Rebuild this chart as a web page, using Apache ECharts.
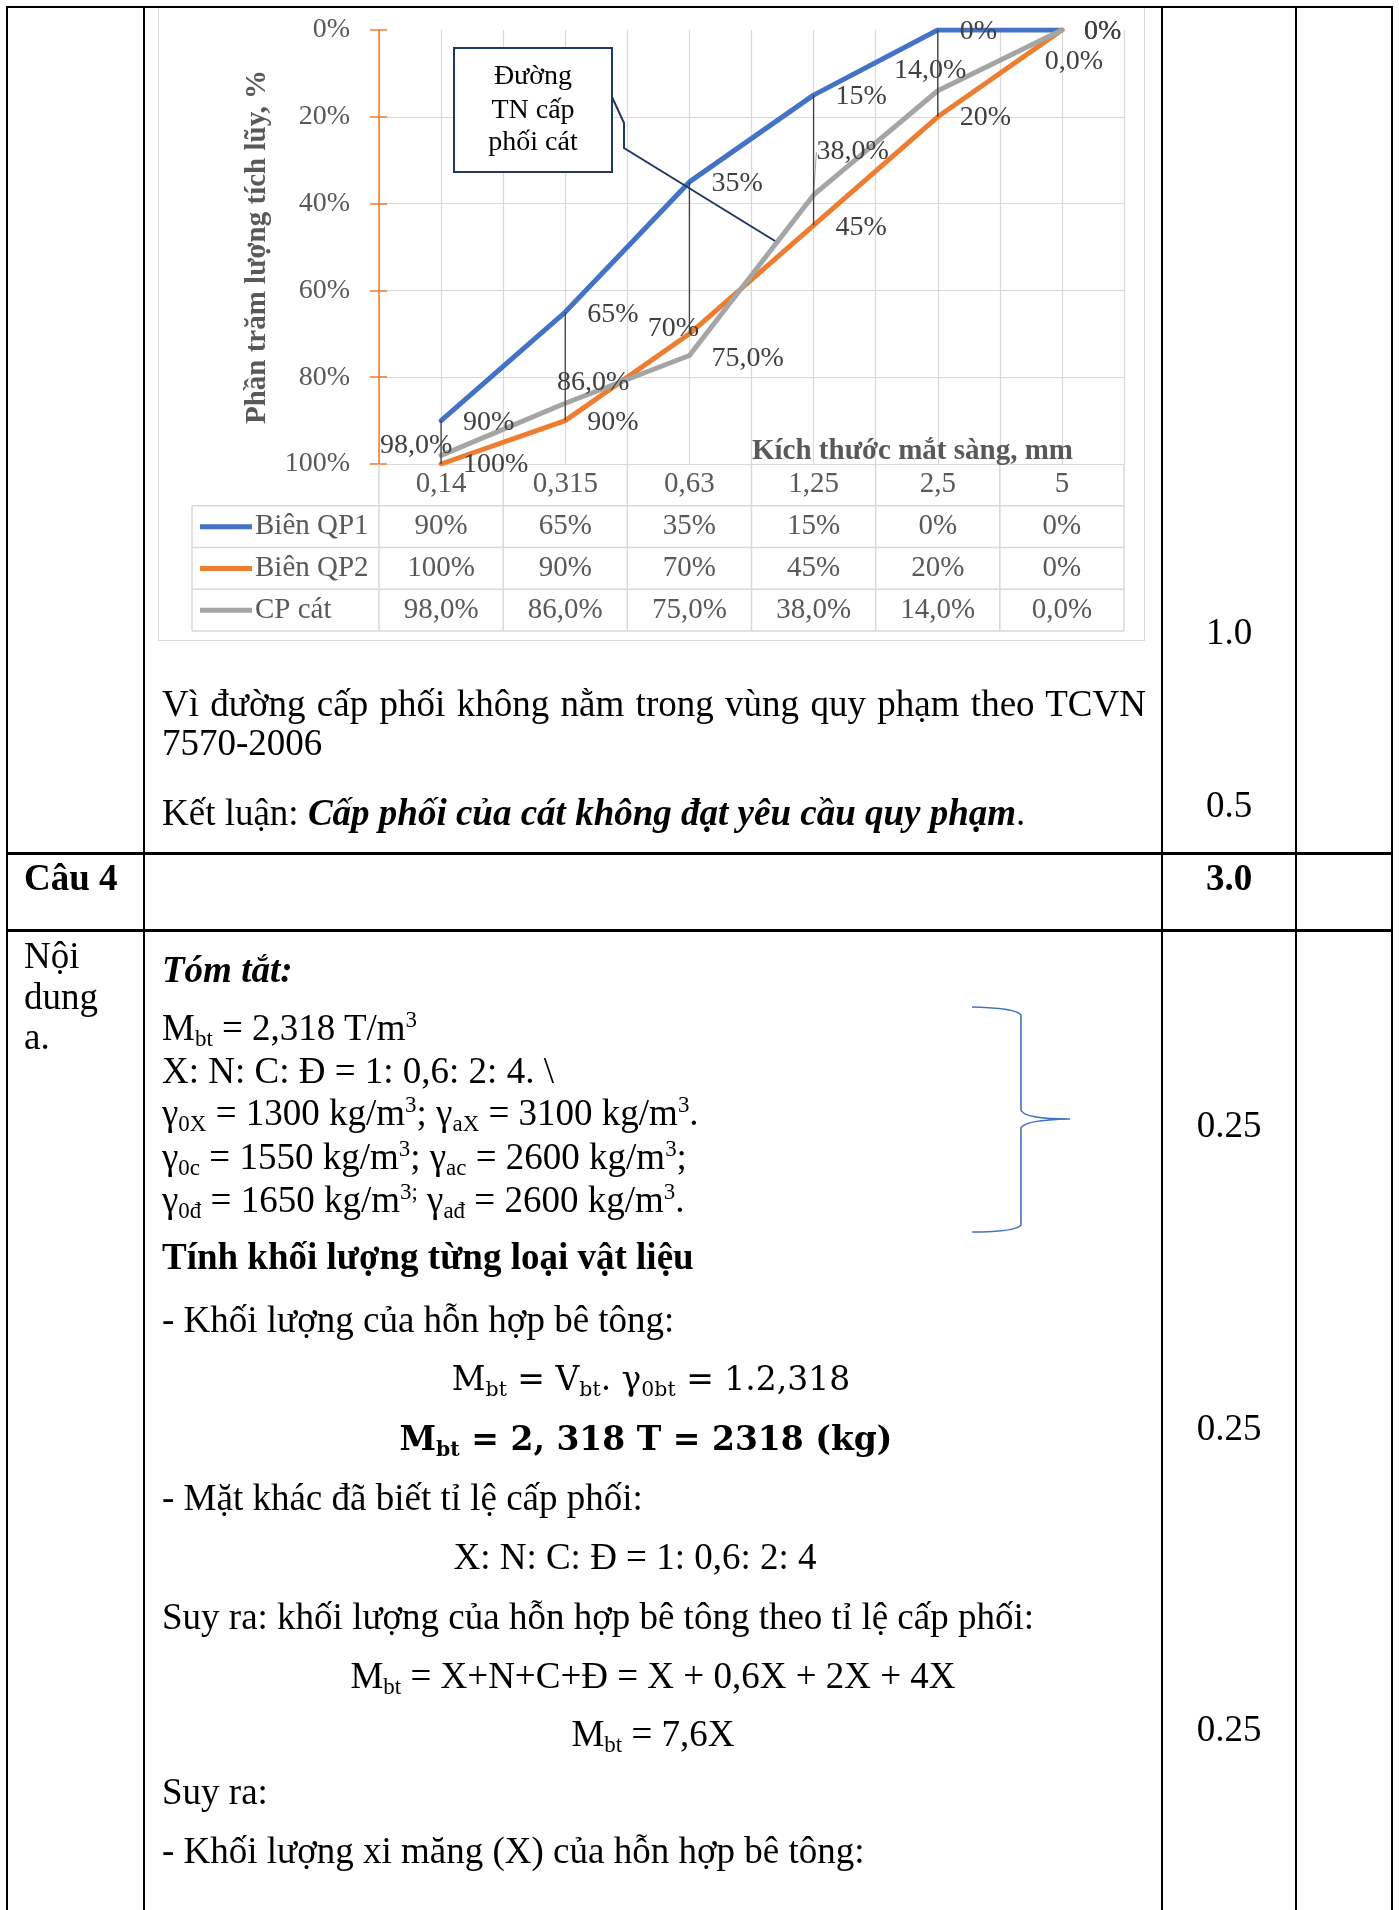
<!DOCTYPE html>
<html><head><meta charset="utf-8">
<script src="https://cdn.jsdelivr.net/npm/echarts@6/dist/echarts.min.js"></script>
<style>
html,body{margin:0;padding:0;background:#fff;}
#page{position:relative;width:1399px;height:1910px;overflow:hidden;background:#fff;}
.ln{position:absolute;background:#000;}
.t{position:absolute;font-family:'Liberation Serif','Times New Roman',serif;font-size:37px;line-height:44px;height:44px;white-space:nowrap;color:#000;}
.c{transform:translateX(-50%);}
.b{font-weight:bold;}
.bi{font-weight:bold;font-style:italic;}
.j{width:984px;text-align:justify;text-align-last:justify;white-space:normal;}
.sb{font-size:0.62em;position:relative;top:0.28em;}
.sp{font-size:0.62em;position:relative;top:-0.55em;}
.m{font-family:'DejaVu Serif',serif;font-size:33px;}
#chart{position:absolute;left:0;top:0;width:1399px;height:660px;}
#frame{position:absolute;left:158px;top:7px;width:985px;height:632px;border:1.5px solid #D9D9D9;}
</style></head>
<body><div id="page">
<div id="frame"></div>
<div class="ln" style="left:6px;top:6px;width:1387px;height:2px"></div>
<div class="ln" style="left:6px;top:6px;width:2px;height:1904px"></div>
<div class="ln" style="left:143px;top:6px;width:2px;height:1904px"></div>
<div class="ln" style="left:1161px;top:6px;width:2px;height:1904px"></div>
<div class="ln" style="left:1295px;top:6px;width:2px;height:1904px"></div>
<div class="ln" style="left:1391px;top:6px;width:2px;height:1904px"></div>
<div class="ln" style="left:6px;top:852px;width:1387px;height:3px"></div>
<div class="ln" style="left:6px;top:929px;width:1387px;height:3px"></div>
<div id="chart"></div>
<svg style="position:absolute;left:0;top:0" width="1399" height="1910">
<path d="M972,1007 Q1016,1008 1021,1015 L1021,1110 Q1024,1119 1070,1119 Q1024,1120 1021,1128 L1021,1225 Q1016,1232 972,1232" fill="none" stroke="#4472C4" stroke-width="1.6"/>
</svg>

<div class="t c" style="left:1229px;top:610px">1.0</div>
<div class="t j" style="left:162px;top:682px">Vì đường cấp phối không nằm trong vùng quy phạm theo TCVN</div>
<div class="t" style="left:162px;top:721px">7570-2006</div>
<div class="t" style="left:162px;top:791px">Kết luận: <span class="bi">Cấp phối của cát không đạt yêu cầu quy phạm</span>.</div>
<div class="t c" style="left:1229px;top:783px">0.5</div>
<div class="t b" style="left:24px;top:856px">Câu 4</div>
<div class="t c b" style="left:1229px;top:856px">3.0</div>
<div class="t" style="left:24px;top:934px">Nội</div>
<div class="t" style="left:24px;top:975px">dung</div>
<div class="t" style="left:24px;top:1015px">a.</div>
<div class="t bi" style="left:162px;top:948px">Tóm tắt:</div>
<div class="t" style="left:162px;top:1006px">M<span class="sb">bt</span> = 2,318 T/m<span class="sp">3</span></div>
<div class="t" style="left:162px;top:1049px">X: N: C: Đ = 1: 0,6: 2: 4. \</div>
<div class="t" style="left:162px;top:1091px">γ<span class="sb">0X</span> = 1300 kg/m<span class="sp">3</span>; γ<span class="sb">aX</span> = 3100 kg/m<span class="sp">3</span>.</div>
<div class="t" style="left:162px;top:1135px">γ<span class="sb">0c</span> = 1550 kg/m<span class="sp">3</span>; γ<span class="sb">ac</span> = 2600 kg/m<span class="sp">3</span>;</div>
<div class="t" style="left:162px;top:1178px">γ<span class="sb">0đ</span> = 1650 kg/m<span class="sp">3;</span> γ<span class="sb">ađ</span> = 2600 kg/m<span class="sp">3</span>.</div>
<div class="t c" style="left:1229px;top:1103px">0.25</div>
<div class="t b" style="left:162px;top:1235px">Tính khối lượng từng loại vật liệu</div>
<div class="t" style="left:162px;top:1298px">- Khối lượng của hỗn hợp bê tông:</div>
<div class="t c m" style="left:651px;top:1357px">M<span class="sb">bt</span> = V<span class="sb">bt</span>. γ<span class="sb">0bt</span> = 1.2,318</div>
<div class="t c m b" style="left:646px;top:1417px">M<span class="sb">bt</span> = 2, 318 T = 2318 (kg)</div>
<div class="t c" style="left:1229px;top:1406px">0.25</div>
<div class="t" style="left:162px;top:1476px">- Mặt khác đã biết tỉ lệ cấp phối:</div>
<div class="t c" style="left:635px;top:1535px">X: N: C: Đ = 1: 0,6: 2: 4</div>
<div class="t" style="left:162px;top:1595px">Suy ra: khối lượng của hỗn hợp bê tông theo tỉ lệ cấp phối:</div>
<div class="t c" style="left:653px;top:1654px">M<span class="sb">bt</span> = X+N+C+Đ = X + 0,6X + 2X + 4X</div>
<div class="t c" style="left:653px;top:1712px">M<span class="sb">bt</span> = 7,6X</div>
<div class="t c" style="left:1229px;top:1707px">0.25</div>
<div class="t" style="left:162px;top:1770px">Suy ra:</div>
<div class="t" style="left:162px;top:1829px">- Khối lượng xi măng (X) của hỗn hợp bê tông:</div>
</div>
<script>
// ---- data ----
const categories = ['0,14', '0,315', '0,63', '1,25', '2,5', '5'];
const seriesNames = ['Biên QP1', 'Biên QP2', 'CP cát'];
const bienQP1 = [90, 65, 35, 15, 0, 0];
const bienQP2 = [100, 90, 70, 45, 20, 0];
const cpCat = [98.0, 86.0, 75.0, 38.0, 14.0, 0.0];
const yTicks = [0, 20, 40, 60, 80, 100];
const yTitle = 'Phần trăm lượng tích lũy, %';
const xTitle = 'Kích thước mắt sàng, mm';
const calloutLines = ['Đường', 'TN cấp', 'phối cát'];

// ---- styles ----
const colors = ['#4472C4', '#ED7D31', '#A5A5A5'];
const FONT = "'Liberation Serif','Times New Roman',serif";
const fmtInt = v => v + '%';
const fmtDec = v => v.toFixed(1).replace('.', ',') + '%';
// label placement per point: null = right of point, [dx,dy] = centre offset
const placeQP1 = [null, null, null, null, null, null];
const placeQP2 = [null, null, [-15, -4], null, null, null];
const placeCP = [[-24, -8.5], [29, -20], null, [40, -42], [-6.5, -19], [13, 33]];
const dyQP1 = [2, 3, 2, 2, 2, 2];
const dyQP2 = [1, 2, 0, 2, 1, 2];
const dyCP = [0, 0, 3, 0, 0, 0];

function items(vals, place, dys, leaderIdx) {
  return vals.map((v, i) => {
    const it = { value: [i, v] };
    if (place[i]) it.label = { position: place[i], align: 'center', verticalAlign: 'middle', distance: 0, offset: [0, 0] };
    else it.label = { position: 'right', distance: 21, offset: [0, dys[i]] };
    if (i === leaderIdx) it.labelLine = { show: true, lineStyle: { color: '#A5A5A5', width: 1 } };
    return it;
  });
}

const chart = echarts.init(document.getElementById('chart'), null, { renderer: 'canvas' });
const rowH = 41.75;
const gridTop = 30, gridH = 434, gridLeft = 379, gridW = 745;

function lineSeries(name, vals, color, fmt, place, dys, leaderIdx) {
  return {
    type: 'line', name: name, xAxisIndex: 0, yAxisIndex: 0,
    data: items(vals, place, dys, leaderIdx),
    symbol: 'circle', symbolSize: 2, showSymbol: true,
    itemStyle: { color: color },
    lineStyle: { color: color, width: 5, cap: 'round', join: 'round' },
    label: { show: true, fontFamily: FONT, fontSize: 28, color: '#404040', formatter: p => fmt(p.value[1]) },
    emphasis: { disabled: true }, silent: true
  };
}

const tableRows = [
  categories,
  bienQP1.map(fmtInt),
  bienQP2.map(fmtInt),
  cpCat.map(fmtDec)
];

const xAxes = [{
  type: 'value', min: -0.5, max: 5.5, interval: 0.5, gridIndex: 0,
  axisLine: { show: false, onZero: false }, axisTick: { show: false }, axisLabel: { show: false },
  splitLine: { show: true, lineStyle: { color: '#D9D9D9', width: 1.2 } }
}];
tableRows.forEach((row, k) => {
  xAxes.push({
    type: 'category', data: row, gridIndex: 0, position: 'bottom', offset: k * rowH,
    boundaryGap: true,
    axisLine: { show: false, onZero: false }, axisTick: { show: false }, splitLine: { show: false },
    axisLabel: { show: true, interval: 0, margin: rowH / 2, verticalAlign: 'middle', fontFamily: FONT, fontSize: 29, color: '#595959' }
  });
});

const option = {
  animation: false,
  backgroundColor: 'transparent',
  grid: { left: gridLeft, top: gridTop, width: gridW, height: gridH, containLabel: false },
  xAxis: xAxes,
  yAxis: [{
    type: 'value', inverse: true, min: yTicks[0], max: yTicks[yTicks.length - 1], interval: 20, position: 'left',
    axisLine: { show: true, onZero: false, lineStyle: { color: '#ED7D31', width: 1.5 } },
    axisTick: { show: true, length: 9, lineStyle: { color: '#ED7D31', width: 1.5 } },
    axisLabel: { formatter: v => v + '%', fontFamily: FONT, fontSize: 28, color: '#595959', margin: 29 },
    splitLine: { show: true, lineStyle: { color: ['rgba(0,0,0,0)', '#D9D9D9', '#D9D9D9', '#D9D9D9', '#D9D9D9', '#D9D9D9'], width: 1.2 } },
    name: yTitle, nameLocation: 'middle', nameGap: 101, nameRotate: 90,
    nameTextStyle: { fontFamily: FONT, fontSize: 29, fontWeight: 'bold', color: '#595959', lineHeight: 32 }
  }, {
    type: 'value', inverse: true, min: yTicks[0], max: yTicks[yTicks.length - 1], interval: 20, position: 'left',
    axisLine: { show: false, onZero: false },
    axisTick: { show: true, inside: true, length: 8, lineStyle: { color: '#ED7D31', width: 1.5 } },
    axisLabel: { show: false }, splitLine: { show: false }
  }],
  series: [
    lineSeries(seriesNames[0], bienQP1, colors[0], fmtInt, placeQP1, dyQP1, -1),
    lineSeries(seriesNames[1], bienQP2, colors[1], fmtInt, placeQP2, dyQP2, -1),
    lineSeries(seriesNames[2], cpCat, colors[2], fmtDec, placeCP, dyCP, 3),
    {
      type: 'custom', name: 'hilo', xAxisIndex: 0, yAxisIndex: 0, z: 5, silent: true,
      encode: { x: 0, y: [1, 2] },
      data: bienQP1.map((v, i) => [i, v, bienQP2[i]]),
      renderItem: (params, api) => {
        const a = api.coord([api.value(0), api.value(1)]);
        const b = api.coord([api.value(0), api.value(2)]);
        return { type: 'line', shape: { x1: a[0], y1: a[1], x2: b[0], y2: b[1] }, style: { stroke: '#404040', lineWidth: 1.3 } };
      }
    }
  ]
};
chart.setOption(option);

// ---- data table grid, legend keys, titles, callout ----
const g = [];
const yBottom = chart.convertToPixel({ yAxisIndex: 0 }, 100);
const xR = chart.convertToPixel({ xAxisIndex: 0 }, 5.5);
const tableLeft = 192;
const tableBottom = yBottom + rowH * tableRows.length;
for (let k = 1; k <= tableRows.length; k++) {
  const y = yBottom + rowH * k;
  g.push({ type: 'line', shape: { x1: tableLeft, y1: y, x2: xR, y2: y }, style: { stroke: '#D9D9D9', lineWidth: 1.5 }, z: 1 });
}
for (let j = 0; j <= categories.length; j++) {
  const x = chart.convertToPixel({ xAxisIndex: 0 }, j - 0.5);
  g.push({ type: 'line', shape: { x1: x, y1: yBottom, x2: x, y2: tableBottom }, style: { stroke: '#D9D9D9', lineWidth: 1.5 }, z: 1 });
}
g.push({ type: 'line', shape: { x1: tableLeft, y1: yBottom + rowH, x2: tableLeft, y2: tableBottom }, style: { stroke: '#D9D9D9', lineWidth: 1.5 }, z: 1 });
seriesNames.forEach((n, k) => {
  const cy = yBottom + rowH * (k + 1.5);
  g.push({ type: 'line', shape: { x1: 200, y1: cy, x2: 252, y2: cy }, style: { stroke: colors[k], lineWidth: 5 }, z: 3 });
  g.push({ type: 'text', x: 255, y: cy, style: { text: n, font: '29px ' + FONT, fill: '#595959', align: 'left', verticalAlign: 'middle' }, z: 3 });
});
g.push({ type: 'text', x: 1073, y: 452, style: { text: xTitle, font: 'bold 29px ' + FONT, fill: '#595959', align: 'right', verticalAlign: 'middle' }, z: 3 });
// callout
g.push({ type: 'rect', shape: { x: 454, y: 48, width: 158, height: 124 }, style: { fill: '#fff', stroke: '#1F3864', lineWidth: 2 }, z: 20 });
const cys = [77, 111, 143];
calloutLines.forEach((s, k) => {
  g.push({ type: 'text', x: 533, y: cys[k], style: { text: s, font: '28px ' + FONT, fill: '#000', align: 'center', verticalAlign: 'middle' }, z: 21 });
});
g.push({ type: 'polyline', shape: { points: [[612, 97], [624, 123], [624, 148], [775, 241]] }, style: { stroke: '#1F3864', lineWidth: 2, fill: null }, z: 20 });
chart.setOption({ graphic: { elements: g } });
</script>
</body></html>
